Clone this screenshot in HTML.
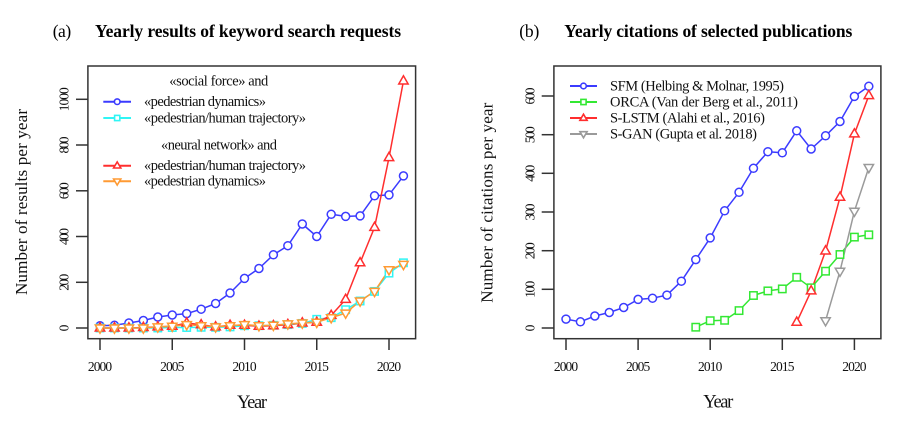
<!DOCTYPE html>
<html><head><meta charset="utf-8"><style>
html,body{margin:0;padding:0;background:#fff;}
svg{display:block;font-family:"Liberation Serif","DejaVu Serif",serif;}
</style></head><body>
<svg width="900" height="424" viewBox="0 0 900 424" xmlns="http://www.w3.org/2000/svg">
<defs>
<circle id="c" r="4" fill="#fff" stroke-width="1.5"/>
<rect id="s" x="-3.7" y="-3.7" width="7.4" height="7.4" fill="#fff" stroke-width="1.5"/>
<path id="tu" d="M0,-5.2 L-4.7,3 L4.7,3 Z" fill="#fff" stroke-width="1.5"/>
<path id="td" d="M0,5.2 L-4.7,-3 L4.7,-3 Z" fill="#fff" stroke-width="1.5"/>
<circle id="cl" r="2.8" fill="#fff" stroke-width="1.6"/>
<rect id="sl" x="-2.6" y="-2.6" width="5.2" height="5.2" fill="#fff" stroke-width="1.6"/>
<path id="tul" d="M0,-3.8 L-3.6,2.3 L3.6,2.3 Z" fill="#fff" stroke-width="1.6"/>
<path id="tdl" d="M0,3.8 L-3.6,-2.3 L3.6,-2.3 Z" fill="#fff" stroke-width="1.6"/>
</defs>

<!-- ============ PANEL A ============ -->
<text x="52.7" y="37" font-size="17.5" textLength="18.5">(a)</text>
<text x="95" y="37" font-size="17.5" font-weight="bold" textLength="306">Yearly results of keyword search requests</text>

<rect x="87.9" y="66" width="327.7" height="272.7" fill="none" stroke="#333" stroke-width="1.5"/>
<g stroke="#333" stroke-width="1.5">
<line x1="76" y1="328" x2="87.9" y2="328"/>
<line x1="76" y1="282.3" x2="87.9" y2="282.3"/>
<line x1="76" y1="236.5" x2="87.9" y2="236.5"/>
<line x1="76" y1="190.8" x2="87.9" y2="190.8"/>
<line x1="76" y1="145" x2="87.9" y2="145"/>
<line x1="76" y1="99.3" x2="87.9" y2="99.3"/>
<line x1="100" y1="338.7" x2="100" y2="350"/>
<line x1="172.25" y1="338.7" x2="172.25" y2="350"/>
<line x1="244.5" y1="338.7" x2="244.5" y2="350"/>
<line x1="316.75" y1="338.7" x2="316.75" y2="350"/>
<line x1="389" y1="338.7" x2="389" y2="350"/>
</g>
<g font-size="13.5" text-anchor="middle" fill="#111">
<text x="100" y="371" textLength="24.3">2000</text>
<text x="172.25" y="371" textLength="24.3">2005</text>
<text x="244.5" y="371" textLength="24.3">2010</text>
<text x="316.75" y="371" textLength="24.3">2015</text>
<text x="389" y="371" textLength="24.3">2020</text>
<text transform="translate(68.3,328) rotate(-90)" textLength="5.6">0</text>
<text transform="translate(68.3,282.3) rotate(-90)" textLength="17">200</text>
<text transform="translate(68.3,236.5) rotate(-90)" textLength="17">400</text>
<text transform="translate(68.3,190.8) rotate(-90)" textLength="17">600</text>
<text transform="translate(68.3,145) rotate(-90)" textLength="17">800</text>
<text transform="translate(68.3,99.3) rotate(-90)" textLength="24">1000</text>
</g>
<text x="252" y="408" font-size="18.5" text-anchor="middle" textLength="30" fill="#111">Year</text>
<text transform="translate(27,202) rotate(-90)" font-size="17" text-anchor="middle" textLength="186" fill="#111">Number of results per year</text>

<g fill="none" stroke-width="1.5" stroke-linejoin="round">
<polyline stroke="#3b3bff" points="100,325.7 114.45,325.3 128.9,323 143.35,320.5 157.8,317 172.25,315 186.7,313.6 201.15,309.2 215.6,303.5 230.05,293 244.5,278.4 258.95,268.5 273.4,254.8 287.85,245.7 302.3,224 316.75,236.5 331.2,214.3 345.65,216.4 360.1,215.9 374.55,195.8 389,194.9 403.45,175.9"/>
<polyline stroke="#30f5f5" points="100,328 114.45,328 128.9,328 143.35,328 157.8,328 172.25,327.5 186.7,327.5 201.15,327.3 215.6,327.3 230.05,326.9 244.5,325.7 258.95,325.7 273.4,325.3 287.85,324.6 302.3,323.4 316.75,319.3 331.2,317.7 345.65,309.7 360.1,301 374.55,291.4 389,273.1 403.45,262.8"/>
<polyline stroke="#ff2e2e" points="100,328 114.45,328 128.9,328 143.35,327.5 157.8,326.9 172.25,326.2 186.7,323 201.15,324.8 215.6,326.9 230.05,325.3 244.5,325.3 258.95,326.2 273.4,325.7 287.85,324.6 302.3,323 316.75,322.3 331.2,315.4 345.65,299.4 360.1,262.8 374.55,227.4 389,157.6 403.45,81"/>
<polyline stroke="#ff9a33" points="100,328 114.45,328 128.9,328 143.35,328 157.8,326.9 172.25,326.2 186.7,324.6 201.15,325.7 215.6,326.9 230.05,325.7 244.5,324.6 258.95,325.7 273.4,325.3 287.85,323.9 302.3,323 316.75,322.3 331.2,317.7 345.65,313.1 360.1,301 374.55,291.4 389,269.7 403.45,264.4"/>
</g>
<g stroke="#3b3bff">
<use href="#c" x="100" y="325.7"/><use href="#c" x="114.45" y="325.3"/><use href="#c" x="128.9" y="323"/><use href="#c" x="143.35" y="320.5"/><use href="#c" x="157.8" y="317"/><use href="#c" x="172.25" y="315"/><use href="#c" x="186.7" y="313.6"/><use href="#c" x="201.15" y="309.2"/><use href="#c" x="215.6" y="303.5"/><use href="#c" x="230.05" y="293"/><use href="#c" x="244.5" y="278.4"/><use href="#c" x="258.95" y="268.5"/><use href="#c" x="273.4" y="254.8"/><use href="#c" x="287.85" y="245.7"/><use href="#c" x="302.3" y="224"/><use href="#c" x="316.75" y="236.5"/><use href="#c" x="331.2" y="214.3"/><use href="#c" x="345.65" y="216.4"/><use href="#c" x="360.1" y="215.9"/><use href="#c" x="374.55" y="195.8"/><use href="#c" x="389" y="194.9"/><use href="#c" x="403.45" y="175.9"/>
</g>
<g stroke="#30f5f5">
<use href="#s" x="100" y="328"/><use href="#s" x="114.45" y="328"/><use href="#s" x="128.9" y="328"/><use href="#s" x="143.35" y="328"/><use href="#s" x="157.8" y="328"/><use href="#s" x="172.25" y="327.5"/><use href="#s" x="186.7" y="327.5"/><use href="#s" x="201.15" y="327.3"/><use href="#s" x="215.6" y="327.3"/><use href="#s" x="230.05" y="326.9"/><use href="#s" x="244.5" y="325.7"/><use href="#s" x="258.95" y="325.7"/><use href="#s" x="273.4" y="325.3"/><use href="#s" x="287.85" y="324.6"/><use href="#s" x="302.3" y="323.4"/><use href="#s" x="316.75" y="319.3"/><use href="#s" x="331.2" y="317.7"/><use href="#s" x="345.65" y="309.7"/><use href="#s" x="360.1" y="301"/><use href="#s" x="374.55" y="291.4"/><use href="#s" x="389" y="273.1"/><use href="#s" x="403.45" y="262.8"/>
</g>
<g stroke="#ff2e2e">
<use href="#tu" x="100" y="328"/><use href="#tu" x="114.45" y="328"/><use href="#tu" x="128.9" y="328"/><use href="#tu" x="143.35" y="327.5"/><use href="#tu" x="157.8" y="326.9"/><use href="#tu" x="172.25" y="326.2"/><use href="#tu" x="186.7" y="323"/><use href="#tu" x="201.15" y="324.8"/><use href="#tu" x="215.6" y="326.9"/><use href="#tu" x="230.05" y="325.3"/><use href="#tu" x="244.5" y="325.3"/><use href="#tu" x="258.95" y="326.2"/><use href="#tu" x="273.4" y="325.7"/><use href="#tu" x="287.85" y="324.6"/><use href="#tu" x="302.3" y="323"/><use href="#tu" x="316.75" y="322.3"/><use href="#tu" x="331.2" y="315.4"/><use href="#tu" x="345.65" y="299.4"/><use href="#tu" x="360.1" y="262.8"/><use href="#tu" x="374.55" y="227.4"/><use href="#tu" x="389" y="157.6"/><use href="#tu" x="403.45" y="81"/>
</g>
<g stroke="#ff9a33">
<use href="#td" x="100" y="328"/><use href="#td" x="114.45" y="328"/><use href="#td" x="128.9" y="328"/><use href="#td" x="143.35" y="328"/><use href="#td" x="157.8" y="326.9"/><use href="#td" x="172.25" y="326.2"/><use href="#td" x="186.7" y="324.6"/><use href="#td" x="201.15" y="325.7"/><use href="#td" x="215.6" y="326.9"/><use href="#td" x="230.05" y="325.7"/><use href="#td" x="244.5" y="324.6"/><use href="#td" x="258.95" y="325.7"/><use href="#td" x="273.4" y="325.3"/><use href="#td" x="287.85" y="323.9"/><use href="#td" x="302.3" y="323"/><use href="#td" x="316.75" y="322.3"/><use href="#td" x="331.2" y="317.7"/><use href="#td" x="345.65" y="313.1"/><use href="#td" x="360.1" y="301"/><use href="#td" x="374.55" y="291.4"/><use href="#td" x="389" y="269.7"/><use href="#td" x="403.45" y="264.4"/>
</g>

<g stroke-width="2">
<line x1="103.3" y1="101.7" x2="131" y2="101.7" stroke="#3b3bff"/>
<line x1="103.3" y1="118" x2="131" y2="118" stroke="#30f5f5"/>
<line x1="103.3" y1="165.7" x2="131" y2="165.7" stroke="#ff2e2e"/>
<line x1="103.3" y1="181.3" x2="131" y2="181.3" stroke="#ff9a33"/>
</g>
<use href="#cl" x="117.2" y="101.7" stroke="#3b3bff"/>
<use href="#sl" x="117.2" y="118" stroke="#30f5f5"/>
<use href="#tul" x="117.2" y="165.7" stroke="#ff2e2e"/>
<use href="#tdl" x="117.2" y="181.3" stroke="#ff9a33"/>
<g font-size="14.5" fill="#111">
<text x="169.3" y="85.5" textLength="99">«social force» and</text>
<text x="144" y="106" textLength="122">«pedestrian dynamics»</text>
<text x="144" y="122.3" textLength="162">«pedestrian/human trajectory»</text>
<text x="161" y="149.5" textLength="116">«neural network» and</text>
<text x="144" y="170" textLength="162">«pedestrian/human trajectory»</text>
<text x="144" y="185.6" textLength="122">«pedestrian dynamics»</text>
</g>

<!-- ============ PANEL B ============ -->
<text x="519.3" y="37" font-size="17.5" textLength="20">(b)</text>
<text x="564.3" y="37" font-size="17.5" font-weight="bold" textLength="288">Yearly citations of selected publications</text>

<rect x="553.9" y="66" width="327" height="272.7" fill="none" stroke="#333" stroke-width="1.5"/>
<g stroke="#333" stroke-width="1.5">
<line x1="541.7" y1="328" x2="553.9" y2="328"/>
<line x1="541.7" y1="289.3" x2="553.9" y2="289.3"/>
<line x1="541.7" y1="250.7" x2="553.9" y2="250.7"/>
<line x1="541.7" y1="212" x2="553.9" y2="212"/>
<line x1="541.7" y1="173.3" x2="553.9" y2="173.3"/>
<line x1="541.7" y1="134.7" x2="553.9" y2="134.7"/>
<line x1="541.7" y1="96" x2="553.9" y2="96"/>
<line x1="566" y1="338.7" x2="566" y2="350"/>
<line x1="638.1" y1="338.7" x2="638.1" y2="350"/>
<line x1="710.2" y1="338.7" x2="710.2" y2="350"/>
<line x1="782.3" y1="338.7" x2="782.3" y2="350"/>
<line x1="854.4" y1="338.7" x2="854.4" y2="350"/>
</g>
<g font-size="13.5" text-anchor="middle" fill="#111">
<text x="566" y="371" textLength="24.3">2000</text>
<text x="638.1" y="371" textLength="24.3">2005</text>
<text x="710.2" y="371" textLength="24.3">2010</text>
<text x="782.3" y="371" textLength="24.3">2015</text>
<text x="854.4" y="371" textLength="24.3">2020</text>
<text transform="translate(534.3,328) rotate(-90)" textLength="5.6">0</text>
<text transform="translate(534.3,289.3) rotate(-90)" textLength="17">100</text>
<text transform="translate(534.3,250.7) rotate(-90)" textLength="17">200</text>
<text transform="translate(534.3,212) rotate(-90)" textLength="17">300</text>
<text transform="translate(534.3,173.3) rotate(-90)" textLength="17">400</text>
<text transform="translate(534.3,134.7) rotate(-90)" textLength="17">500</text>
<text transform="translate(534.3,96) rotate(-90)" textLength="17">600</text>
</g>
<text x="718.3" y="407.5" font-size="18.5" text-anchor="middle" textLength="30" fill="#111">Year</text>
<text transform="translate(492.5,202.7) rotate(-90)" font-size="17" text-anchor="middle" textLength="200" fill="#111">Number of citations per year</text>

<g fill="none" stroke-width="1.5" stroke-linejoin="round">
<polyline stroke="#3b3bff" points="566,319.1 580.42,321.8 594.84,316 609.26,312.5 623.68,307.5 638.1,299.4 652.52,298.2 666.94,295.1 681.36,281.2 695.78,259.6 710.2,237.9 724.62,210.8 739.04,192.3 753.46,168.3 767.88,151.7 782.3,152.8 796.72,130.8 811.14,149 825.56,135.8 839.98,121.5 854.4,96.4 868.82,86.3"/>
<polyline stroke="#33e833" points="695.78,327.2 710.2,320.7 724.62,320.3 739.04,310.6 753.46,295.5 767.88,290.9 782.3,288.9 796.72,277.3 811.14,287.8 825.56,271.2 839.98,254.5 854.4,237.1 868.82,234.8"/>
<polyline stroke="#ff2e2e" points="796.72,322.2 811.14,290.9 825.56,251 839.98,197.3 854.4,133.9 868.82,95.6"/>
<polyline stroke="#9a9a9a" points="825.56,320.7 839.98,271.2 854.4,211.2 868.82,167.5"/>
</g>
<g stroke="#3b3bff">
<use href="#c" x="566" y="319.1"/><use href="#c" x="580.42" y="321.8"/><use href="#c" x="594.84" y="316"/><use href="#c" x="609.26" y="312.5"/><use href="#c" x="623.68" y="307.5"/><use href="#c" x="638.1" y="299.4"/><use href="#c" x="652.52" y="298.2"/><use href="#c" x="666.94" y="295.1"/><use href="#c" x="681.36" y="281.2"/><use href="#c" x="695.78" y="259.6"/><use href="#c" x="710.2" y="237.9"/><use href="#c" x="724.62" y="210.8"/><use href="#c" x="739.04" y="192.3"/><use href="#c" x="753.46" y="168.3"/><use href="#c" x="767.88" y="151.7"/><use href="#c" x="782.3" y="152.8"/><use href="#c" x="796.72" y="130.8"/><use href="#c" x="811.14" y="149"/><use href="#c" x="825.56" y="135.8"/><use href="#c" x="839.98" y="121.5"/><use href="#c" x="854.4" y="96.4"/><use href="#c" x="868.82" y="86.3"/>
</g>
<g stroke="#33e833">
<use href="#s" x="695.78" y="327.2"/><use href="#s" x="710.2" y="320.7"/><use href="#s" x="724.62" y="320.3"/><use href="#s" x="739.04" y="310.6"/><use href="#s" x="753.46" y="295.5"/><use href="#s" x="767.88" y="290.9"/><use href="#s" x="782.3" y="288.9"/><use href="#s" x="796.72" y="277.3"/><use href="#s" x="811.14" y="287.8"/><use href="#s" x="825.56" y="271.2"/><use href="#s" x="839.98" y="254.5"/><use href="#s" x="854.4" y="237.1"/><use href="#s" x="868.82" y="234.8"/>
</g>
<g stroke="#ff2e2e">
<use href="#tu" x="796.72" y="322.2"/><use href="#tu" x="811.14" y="290.9"/><use href="#tu" x="825.56" y="251"/><use href="#tu" x="839.98" y="197.3"/><use href="#tu" x="854.4" y="133.9"/><use href="#tu" x="868.82" y="95.6"/>
</g>
<g stroke="#9a9a9a">
<use href="#td" x="825.56" y="320.7"/><use href="#td" x="839.98" y="271.2"/><use href="#td" x="854.4" y="211.2"/><use href="#td" x="868.82" y="167.5"/>
</g>

<g stroke-width="2">
<line x1="570" y1="86" x2="597" y2="86" stroke="#3b3bff"/>
<line x1="570" y1="102" x2="597" y2="102" stroke="#33e833"/>
<line x1="570" y1="118" x2="597" y2="118" stroke="#ff2e2e"/>
<line x1="570" y1="134" x2="597" y2="134" stroke="#9a9a9a"/>
</g>
<use href="#cl" x="583.5" y="86" stroke="#3b3bff"/>
<use href="#sl" x="583.5" y="102" stroke="#33e833"/>
<use href="#tul" x="583.5" y="118" stroke="#ff2e2e"/>
<use href="#tdl" x="583.5" y="134" stroke="#9a9a9a"/>
<g font-size="14.5" fill="#111">
<text x="610" y="90.6" textLength="174">SFM (Helbing &amp; Molnar, 1995)</text>
<text x="610" y="106.6" textLength="188">ORCA (Van der Berg et al., 2011)</text>
<text x="610" y="122.6" textLength="155">S-LSTM (Alahi et al., 2016)</text>
<text x="610" y="138.6" textLength="147">S-GAN (Gupta et al. 2018)</text>
</g>
</svg>
</body></html>
